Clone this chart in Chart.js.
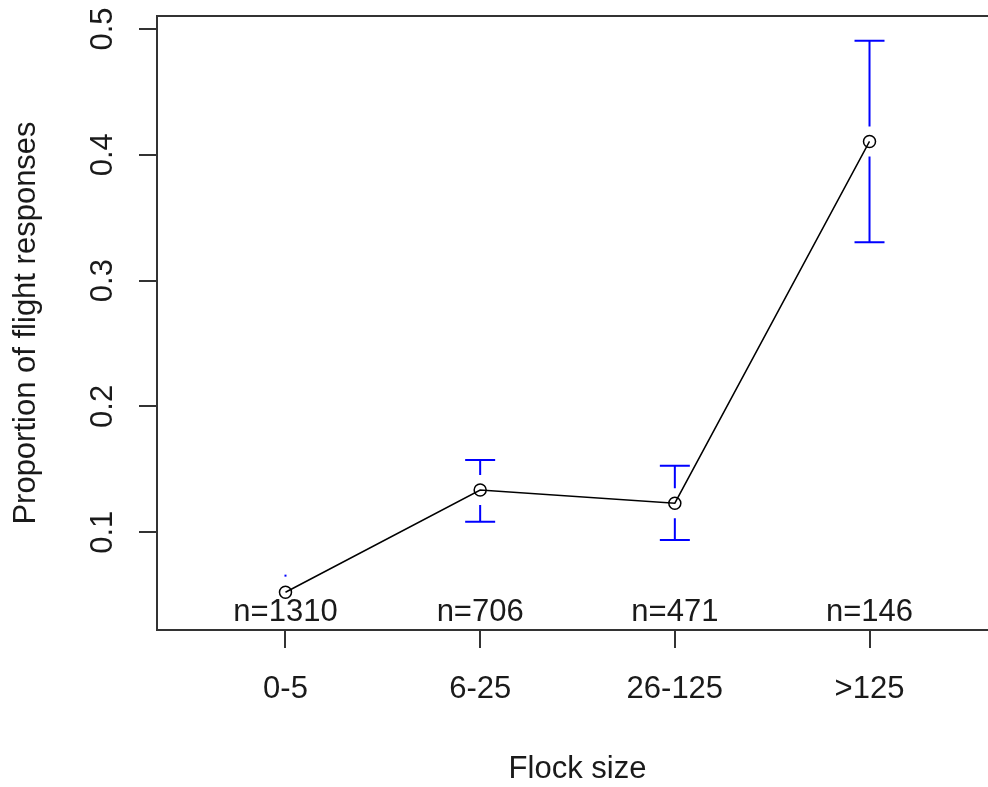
<!DOCTYPE html>
<html>
<head>
<meta charset="utf-8">
<script src="https://cdn.jsdelivr.net/npm/chart.js@4/dist/chart.umd.min.js"></script>
<style>
    html, body { margin: 0; padding: 0; background: #fff; overflow: hidden; }
    /* the R plot box runs a little past the right edge of the picture */
    #wrap { width: 988px; height: 787px; overflow: hidden; }
</style>
</head>
<body>
<div id="wrap"><canvas id="flockChart" width="1000" height="787"></canvas></div>
<script>
const categories = ['0-5', '6-25', '26-125', '>125'];
const proportions = [0.0523, 0.1336, 0.1231, 0.4106];
const upperCI = [0.0655, 0.1575, 0.1529, 0.4907];
const lowerCI = [0.040, 0.1084, 0.0939, 0.3305];
const sampleSizes = [1310, 706, 471, 146];
const yTicks = [0.1, 0.2, 0.3, 0.4, 0.5];

const FONT = '31px "Liberation Sans", Arial, sans-serif';
const TEXT = '#1a1a1a';
const AXIS = '#333';
const GAP = 15;   // gap between point and error bar, px
const CAP = 15;   // half width of error bar cap, px

const errorBars = {
    id: 'errorBars',
    beforeDatasetsDraw(chart) {
        const ctx = chart.ctx;
        const xs = chart.scales.x;
        const ys = chart.scales.y;
        ctx.save();
        ctx.strokeStyle = '#0000ff';
        ctx.fillStyle = '#0000ff';
        ctx.lineWidth = 2;
        categories.forEach((c, i) => {
            const x = xs.getPixelForValue(i + 1);
            const yM = ys.getPixelForValue(proportions[i]);
            const yU = ys.getPixelForValue(upperCI[i]);
            const yL = ys.getPixelForValue(lowerCI[i]);

            const upLen = (yM - GAP) - yU;
            if (upLen >= 3) {
                ctx.beginPath();
                ctx.moveTo(x, yM - GAP); ctx.lineTo(x, yU);
                ctx.moveTo(x - CAP, yU); ctx.lineTo(x + CAP, yU);
                ctx.stroke();
            } else if (upLen >= 1) {
                ctx.fillRect(x - 1, yU - 1, 2, 2);
            }

            const lowLen = yL - (yM + GAP);
            if (lowLen >= 3) {
                ctx.beginPath();
                ctx.moveTo(x, yM + GAP); ctx.lineTo(x, yL);
                ctx.moveTo(x - CAP, yL); ctx.lineTo(x + CAP, yL);
                ctx.stroke();
            } else if (lowLen >= 1) {
                ctx.fillRect(x - 1, yL - 1, 2, 2);
            }
        });
        ctx.restore();
    }
};

const rLabels = {
    id: 'rLabels',
    afterDraw(chart) {
        const ctx = chart.ctx;
        const area = chart.chartArea;
        const xs = chart.scales.x;
        const ys = chart.scales.y;
        ctx.save();

        // plot box
        ctx.strokeStyle = AXIS;
        ctx.lineWidth = 2;
        ctx.strokeRect(area.left, area.top, area.right - area.left, area.bottom - area.top);

        ctx.font = FONT;
        ctx.fillStyle = TEXT;
        ctx.textBaseline = 'alphabetic';
        ctx.textAlign = 'center';

        // sample sizes inside the plot
        sampleSizes.forEach((n, i) => {
            ctx.fillText('n=' + n, xs.getPixelForValue(i + 1), area.bottom - 9);
        });

        // x tick labels
        xs.ticks.forEach(t => {
            ctx.fillText(categories[t.value - 1], xs.getPixelForValue(t.value), 698);
        });

        // x title
        ctx.fillText('Flock size', (area.left + area.right) / 2, 778);

        // y tick labels, rotated like R
        ys.ticks.forEach(t => {
            ctx.save();
            ctx.translate(112, ys.getPixelForValue(t.value));
            ctx.rotate(-Math.PI / 2);
            ctx.fillText(t.value.toFixed(1), 0, 0);
            ctx.restore();
        });

        // y title
        ctx.save();
        ctx.translate(35, (area.top + area.bottom) / 2);
        ctx.rotate(-Math.PI / 2);
        ctx.fillText('Proportion of flight responses', 0, 0);
        ctx.restore();

        ctx.restore();
    }
};

const ctx = document.getElementById('flockChart').getContext('2d');
new Chart(ctx, {
    type: 'line',
    data: {
        datasets: [{
            data: proportions.map((p, i) => ({ x: i + 1, y: p })),
            borderColor: '#000',
            borderWidth: 1.5,
            pointRadius: 6,
            pointBorderWidth: 1.5,
            pointBorderColor: '#000',
            pointBackgroundColor: 'rgba(0,0,0,0)',
            tension: 0,
            fill: false
        }]
    },
    options: {
        responsive: false,
        animation: false,
        events: [],
        layout: { autoPadding: false, padding: { top: 16, right: 2, left: 0, bottom: 0 } },
        plugins: {
            legend: { display: false },
            tooltip: { enabled: false }
        },
        scales: {
            x: {
                type: 'linear',
                min: 0.34,
                max: 4.66,
                afterBuildTicks: s => { s.ticks = categories.map((c, i) => ({ value: i + 1 })); },
                afterFit: s => { s.height = 157; },
                ticks: { display: false },
                border: { display: false },
                grid: { drawOnChartArea: false, drawTicks: true, tickLength: 18, color: AXIS, lineWidth: 2 }
            },
            y: {
                type: 'linear',
                min: 0.0223,
                max: 0.5103,
                afterBuildTicks: s => { s.ticks = yTicks.map(v => ({ value: v })); },
                afterFit: s => { s.width = 157; },
                ticks: { display: false },
                border: { display: false },
                grid: { drawOnChartArea: false, drawTicks: true, tickLength: 18, color: AXIS, lineWidth: 2 }
            }
        }
    },
    plugins: [errorBars, rLabels]
});
</script>
</body>
</html>
